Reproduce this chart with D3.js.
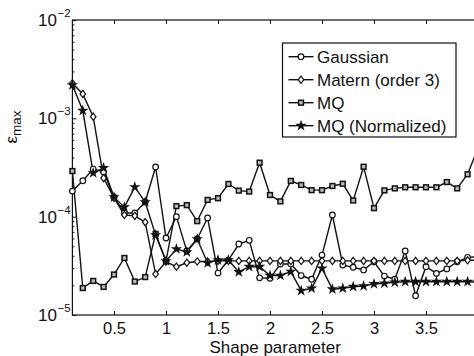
<!DOCTYPE html>
<html>
<head>
<meta charset="utf-8">
<script src="https://cdnjs.cloudflare.com/ajax/libs/d3/7.8.5/d3.min.js"></script>
<style>
  body { margin: 0; background: #fff; }
  text { font-family: "Liberation Sans", Arial, sans-serif; fill: #111; }
</style>
</head>
<body>
<div id="chart"></div>
<script>
// shape parameter values 0.1 .. 4.0
var shapeParam = [0.1, 0.2, 0.3, 0.4, 0.5, 0.6, 0.7, 0.8, 0.9, 1.0,
  1.1, 1.2, 1.3, 1.4, 1.5, 1.6, 1.7, 1.8, 1.9, 2.0,
  2.1, 2.2, 2.3, 2.4, 2.5, 2.6, 2.7, 2.8, 2.9, 3.0,
  3.1, 3.2, 3.3, 3.4, 3.5, 3.6, 3.7, 3.8, 3.9, 4.0];

var gaussian = [1.82e-4, 2.32e-4, 3.05e-4, 2.85e-4, 1.58e-4, 1.09e-4, 1.09e-4, 1.41e-4, 3.2e-4, 6.07e-5,
  1.0e-4, 4.48e-5, 5.93e-5, 9.7e-5, 2.67e-5, 3.62e-5, 5.27e-5, 5.75e-5, 2.39e-5, 2.36e-5,
  3.3e-5, 3.3e-5, 2.52e-5, 2.31e-5, 4.07e-5, 1.04e-4, 3.22e-5, 3.06e-5, 2.87e-5, 3.48e-5,
  2.49e-5, 2.31e-5, 4.48e-5, 1.57e-5, 3.1e-5, 2.65e-5, 2.94e-5, 3.48e-5, 3.86e-5, 3.9e-5];

var matern = [2.27e-3, 1.77e-3, 1.04e-3, 2.47e-4, 1.55e-4, 1.04e-4, 1.02e-4, 8.8e-5, 2.61e-5, 3.48e-5,
  3.1e-5, 3.4e-5, 3.5e-5, 3.5e-5, 3.55e-5, 3.55e-5, 3.55e-5, 3.55e-5, 3.55e-5, 3.55e-5,
  3.55e-5, 3.55e-5, 3.55e-5, 3.55e-5, 3.55e-5, 3.55e-5, 3.55e-5, 3.55e-5, 3.55e-5, 3.55e-5,
  3.55e-5, 3.55e-5, 3.55e-5, 3.55e-5, 3.55e-5, 3.55e-5, 3.55e-5, 3.55e-5, 3.6e-5, 3.6e-5];

var mq = [2.91e-4, 1.88e-5, 2.22e-5, 1.93e-5, 2.58e-5, 3.8e-5, 2.19e-5, 2.43e-5, 6.67e-5, 3.54e-5,
  1.28e-4, 1.31e-4, 9.0e-5, 1.48e-4, 1.54e-4, 2.15e-4, 1.84e-4, 1.8e-4, 3.54e-4, 1.66e-4,
  1.43e-4, 2.31e-4, 2.1e-4, 1.86e-4, 1.86e-4, 2.05e-4, 2.16e-4, 1.46e-4, 3.22e-4, 1.22e-4,
  1.85e-4, 1.94e-4, 1.99e-4, 1.99e-4, 1.99e-4, 1.99e-4, 2.25e-4, 1.94e-4, 2.7e-4, 5.0e-4];

var mqNorm = [2.18e-3, 1.2e-3, 2.78e-4, 3.13e-4, 1.58e-4, 1.25e-4, 2.0e-4, 1.41e-4, 6.5e-5, 3.54e-5,
  4.69e-5, 4.37e-5, 5.93e-5, 3.38e-5, 3.62e-5, 3.62e-5, 2.74e-5, 3.1e-5, 3.1e-5, 2.52e-5,
  2.52e-5, 2.76e-5, 1.77e-5, 1.87e-5, 2.98e-5, 1.83e-5, 1.87e-5, 1.94e-5, 1.97e-5, 2.07e-5,
  2.1e-5, 2.15e-5, 2.18e-5, 2.18e-5, 2.18e-5, 2.18e-5, 2.18e-5, 2.18e-5, 2.18e-5, 2.16e-5];

var seriesNames = ["Gaussian", "Matern (order 3)", "MQ", "MQ (Normalized)"];
var xTicks = [0.5, 1, 1.5, 2, 2.5, 3, 3.5, 4];
var yTicks = [1e-5, 1e-4, 1e-3, 1e-2];

// chart size
var svgWidth = 474;
var svgHeight = 356;
var plot = { left: 72.4, right: 478, top: 20, bottom: 315 };

var svg = d3.select("#chart")
  .append("svg")
  .attr("width", svgWidth)
  .attr("height", svgHeight);

var xScale = d3.scaleLinear()
  .domain([0.1, 4])
  .range([plot.left, plot.right]);

var yScale = d3.scaleLog()
  .domain([1e-5, 1e-2])
  .range([plot.bottom, plot.top]);

// minor log ticks (2..9 in each decade)
var minorTicks = [];
yTicks.slice(0, 3).forEach(function(d) {
  for (var m = 2; m <= 9; m++) minorTicks.push(d * m);
});

// axes, ticks pointing inward like matlab
var bottomAxis = d3.axisBottom(xScale).tickValues(xTicks).tickSize(-4).tickPadding(7.5)
  .tickFormat(d3.format("~g"));
var topAxis = d3.axisTop(xScale).tickValues(xTicks).tickSize(-4).tickFormat("");
var leftAxis = d3.axisLeft(yScale).tickValues(yTicks).tickSize(-4).tickFormat("");
var leftMinor = d3.axisLeft(yScale).tickValues(minorTicks).tickSize(-2).tickFormat("");

var gx = svg.append("g").attr("transform", `translate(0, ${plot.bottom})`).call(bottomAxis);
gx.selectAll("text").style("font-size", "16.5px").attr("fill", "#111");
svg.append("g").attr("transform", `translate(0, ${plot.top})`).call(topAxis);
svg.append("g").attr("transform", `translate(${plot.left}, 0)`).call(leftAxis);
svg.append("g").attr("transform", `translate(${plot.left}, 0)`).call(leftMinor);
svg.selectAll(".domain").remove();
svg.selectAll(".tick line").attr("stroke", "#111");

// y tick labels as 10^n
yTicks.forEach(function(d) {
  var y = yScale(d);
  svg.append("text")
    .attr("x", 57).attr("y", y + 6)
    .attr("text-anchor", "end")
    .style("font-size", "17px")
    .text("10");
  svg.append("text")
    .attr("x", 57.5).attr("y", y - 3)
    .style("font-size", "11.5px")
    .text("\u2212" + Math.round(-Math.log10(d)));
});

// axis box
svg.append("rect")
  .attr("x", plot.left).attr("y", plot.top)
  .attr("width", plot.right - plot.left).attr("height", plot.bottom - plot.top)
  .attr("fill", "none").attr("stroke", "#111").attr("stroke-width", 1.2);

// axis titles
svg.append("text")
  .attr("x", (plot.left + plot.right) / 2).attr("y", 352.5)
  .attr("text-anchor", "middle")
  .style("font-size", "17px")
  .text("Shape parameter");

var yLabel = svg.append("text")
  .attr("transform", "translate(17, 127) rotate(-90)")
  .attr("text-anchor", "middle")
  .style("font-size", "17px");
yLabel.append("tspan").text("\u03b5");
yLabel.append("tspan").attr("dy", 4).style("font-size", "13.5px").text("max");

// marker shapes
function drawMarker(g, type, x, y) {
  if (type === 0) {
    g.append("circle").attr("cx", x).attr("cy", y).attr("r", 2.8)
      .attr("fill", "#fff").attr("stroke", "#111").attr("stroke-width", 1.2);
  } else if (type === 1) {
    g.append("path")
      .attr("d", `M${x},${y - 3.6}L${x + 2.8},${y}L${x},${y + 3.6}L${x - 2.8},${y}Z`)
      .attr("fill", "#fff").attr("stroke", "#111").attr("stroke-width", 1.2);
  } else if (type === 2) {
    g.append("rect").attr("x", x - 2.4).attr("y", y - 2.4).attr("width", 4.8).attr("height", 4.8)
      .attr("fill", "#bbb").attr("stroke", "#111").attr("stroke-width", 1.5);
  } else {
    g.append("path")
      .attr("d", d3.symbol().type(d3.symbolStar).size(40)())
      .attr("transform", `translate(${x}, ${y})`)
      .attr("fill", "#111");
  }
}

var allSeries = [gaussian, matern, mq, mqNorm];

var line = d3.line()
  .x((d, i) => xScale(shapeParam[i]))
  .y(d => yScale(d));

var dataGroup = svg.append("g");
allSeries.forEach(function(values, s) {
  dataGroup.append("path")
    .datum(values)
    .attr("d", line)
    .attr("fill", "none")
    .attr("stroke", "#111")
    .attr("stroke-width", 1.4);
});
allSeries.forEach(function(values, s) {
  values.forEach(function(v, i) {
    drawMarker(dataGroup, s, xScale(shapeParam[i]), yScale(v));
  });
});

// legend
var legend = svg.append("g").attr("transform", "translate(282.5, 43)");
legend.append("rect")
  .attr("width", 173.5).attr("height", 94)
  .attr("fill", "#fff").attr("stroke", "#111").attr("stroke-width", 1.2);
seriesNames.forEach(function(name, i) {
  var y = 13.7 + i * 23;
  legend.append("line")
    .attr("x1", 6).attr("x2", 31).attr("y1", y).attr("y2", y)
    .attr("stroke", "#111").attr("stroke-width", 1.4);
  drawMarker(legend, i, 18.5, y);
  legend.append("text")
    .attr("x", 34.5).attr("y", y + 6)
    .style("font-size", "17px")
    .text(name);
});
</script>
</body>
</html>
